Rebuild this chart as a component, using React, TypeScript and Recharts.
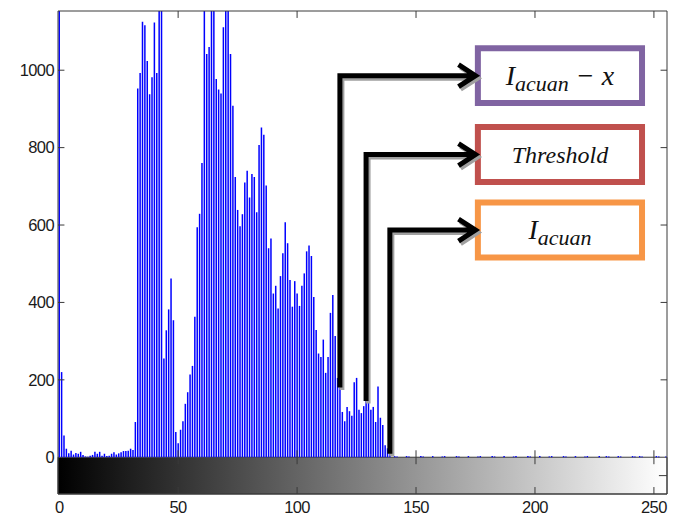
import React from "react";
import { ComposedChart, Bar, XAxis, YAxis, ReferenceArea, ReferenceLine } from "recharts";

// histogram counts, grey levels 0..255
const darkCounts = [
  1250, 220, 56, 22, 10, 17, 7, 11, 9, 14,
  6, 2, 1, 4, 6, 14, 9, 14, 4, 9,
  3, 4, 9, 13, 7, 10, 13, 16, 16, 17,
  22, 19, 91,
];

const midCounts = [
  953, 993, 1125, 1116, 1024, 938, 982, 1123, 993, 1240, // 33-42
  1210, 255, 328, 382, 462, 354, 65, 36, 71, 93, // 43-52
  138, 168, 214, 236, 363, 594, 629, 760, 1230, 1042, // 53-62
  1060, 1220, 1200, 977, 950, 940, 1111, 1250, 1190, 1042, // 63-72
  908, 724, 639, 597, 628, 710, 740, 671, 732, 724, // 73-82
  633, 807, 852, 833, 702, 540, 565, 423, 443, 384, // 83-92
  468, 527, 607, 553, 458, 389, 455, 423, 391, 443, // 93-102
  475, 532, 547, 520, 414, 329, 268, 259, 304, 218, // 103-112
  259, 373, 419, 313, 205, 180, 117, 93, 130, 119, // 113-122
  107, 194, 205, 123, 114, 132, 145, 145, 123, 130, // 123-132
  91, 183, 102, 83, 31, 23, 9, 0, // 133-140
];

const brightCounts = [
  3, 2, 0, 0, 0, 3, 2, 0, 0, 0,
  0, 3, 2, 0, 0, 0, 3, 0, 0, 0,
  2, 3, 0, 0, 0, 0, 3, 2, 0, 0,
  0, 3, 0, 0, 0, 2, 3, 0, 0, 0,
  0, 3, 2, 0, 0, 0, 3, 0, 0, 0,
  2, 3, 0, 0, 0, 0, 3, 2, 0, 0,
  0, 3, 0, 0, 0, 2, 3, 0, 0, 0,
  0, 3, 2, 0, 0, 0, 3, 0, 0, 0,
  2, 3, 0, 0, 0, 0, 3, 0, 0, 3,
  2, 0, 0, 0, 3, 2, 0, 0, 0, 0,
  3, 2, 0, 3, 2, 0, 0, 0, 0, 0,
  3, 2, 0, 0, 2,
];

const xTicks = [0, 50, 100, 150, 200, 250];
const yTicks = [0, 200, 400, 600, 800, 1000];

// annotated grey levels and the level where each arrow turns toward its box
const markerBins = [118, 129, 139];
const markerLevels = [986, 782, 587];
const markerMain = ["I", "Threshold", "I"];
const markerSub = ["acuan", "", "acuan"];
const markerTail = [" \u2212 x", "", ""];
const markerColors = ["#8064a2", "#c0504d", "#f79646"];

const counts = [...darkCounts, ...midCounts, ...brightCounts];
const histData = counts.map((count, bin) => ({ bin, count }));

const X_MIN = -0.5;
const X_MAX = 255.5;
const Y_TOP = 1153;
const BAR_BOTTOM = -95;
const BOX_LEFT = 175;
const BOX_X1 = 176;
const BOX_X2 = 245;
const BOX_HALF = 71;
const AXIS = "#3a3a3a";
const TICK_FONT = "'Liberation Sans', Arial, Helvetica, sans-serif";
const MATH_FONT = "'Liberation Serif', 'Times New Roman', serif";

const Stem = (props: any) => {
  const { x, y, width, height } = props;
  if (!height || height <= 0) return <g />;
  const cx = x + width / 2;
  return <line x1={cx} x2={cx} y1={y} y2={y + height} stroke="#0000ff" strokeWidth={1.5} />;
};

// elbow arrow: up from the bar top, then right to the box
const ElbowArrow = (props: any) => {
  const { x1, y1, x2, y2 } = props;
  const path = `M${x1},${y1} V${y2} H${x2} M${x2 - 17},${y2 - 11} L${x2},${y2} L${x2 - 17},${y2 + 11}`;
  return (
    <g>
      <path d={path} transform="translate(2,2.5)" fill="none" stroke="#a0a0a0" strokeWidth={5} strokeLinejoin="miter" />
      <path d={path} fill="none" stroke="#000" strokeWidth={5} strokeLinejoin="miter" />
    </g>
  );
};

const boxText = (i: number) => (props: any) => {
  const vb = props.viewBox || {};
  const cx = vb.x + vb.width / 2;
  const cy = vb.y + vb.height / 2;
  if (!markerSub[i]) {
    return (
      <text x={cx} y={cy + 8} textAnchor="middle" fontFamily={MATH_FONT} fontStyle="italic" fontSize={24} fill="#111">
        {markerMain[i]}
      </text>
    );
  }
  return (
    <text x={cx} y={cy + 9} textAnchor="middle" fontFamily={MATH_FONT} fontStyle="italic" fontSize={28} fill="#111">
      <tspan>{markerMain[i]}</tspan>
      <tspan fontSize={22} dy={6}>{markerSub[i]}</tspan>
      {markerTail[i] ? <tspan dy={-6}>{markerTail[i]}</tspan> : null}
    </text>
  );
};

export default function App() {
  const innerTicks = xTicks.filter((t) => t > 0);
  const valueTicks = yTicks.filter((v) => v > 0);
  return (
    <div style={{ width: 677, height: 510 }}>
      <ComposedChart width={677} height={510} data={histData} margin={{ top: 3, right: 18, bottom: 0, left: 0 }}>
        <defs>
          <linearGradient id="grayRamp" x1="0" y1="0" x2="1" y2="0">
            <stop offset="0" stopColor="#000000" />
            <stop offset="1" stopColor="#ffffff" />
          </linearGradient>
        </defs>
        <XAxis
          type="number"
          dataKey="bin"
          domain={[X_MIN, X_MAX]}
          allowDataOverflow
          ticks={xTicks}
          interval={0}
          height={24}
          tickSize={0}
          tickMargin={7}
          tickLine={false}
          axisLine={{ stroke: AXIS }}
          tick={{ fontSize: 16.5, fill: "#1a1a1a", fontFamily: TICK_FONT, letterSpacing: -0.6 }}
        />
        <YAxis
          type="number"
          domain={[BAR_BOTTOM, Y_TOP]}
          allowDataOverflow
          ticks={yTicks}
          interval={0}
          width={50}
          tickSize={0}
          tickMargin={4}
          tickLine={false}
          axisLine={{ stroke: AXIS }}
          tick={{ fontSize: 16.5, fill: "#1a1a1a", fontFamily: TICK_FONT, letterSpacing: -0.6 }}
        />

        {/* grey-level colorbar under the histogram */}
        <ReferenceArea x1={X_MIN} x2={X_MAX} y1={BAR_BOTTOM} y2={0} fill="url(#grayRamp)" fillOpacity={1} stroke={AXIS} strokeWidth={1} />

        <Bar dataKey="count" isAnimationActive={false} shape={Stem} />

        <ReferenceLine y={Y_TOP} stroke={AXIS} />
        <ReferenceLine x={X_MAX} stroke={AXIS} />

        {valueTicks.map((v) => (
          <ReferenceLine key={`yl${v}`} segment={[{ x: X_MIN, y: v }, { x: X_MIN + 2.7, y: v }]} stroke={AXIS} />
        ))}
        {valueTicks.map((v) => (
          <ReferenceLine key={`yr${v}`} segment={[{ x: X_MAX, y: v }, { x: X_MAX - 2.7, y: v }]} stroke={AXIS} />
        ))}
        {innerTicks.map((t) => (
          <ReferenceLine key={`xt${t}`} segment={[{ x: t, y: Y_TOP }, { x: t, y: Y_TOP - 18 }]} stroke={AXIS} />
        ))}
        {innerTicks.map((t) => (
          <ReferenceLine key={`xz${t}`} segment={[{ x: t, y: -18 }, { x: t, y: 18 }]} stroke={AXIS} />
        ))}
        {innerTicks.map((t) => (
          <ReferenceLine key={`xb${t}`} segment={[{ x: t, y: BAR_BOTTOM }, { x: t, y: BAR_BOTTOM + 18 }]} stroke={AXIS} />
        ))}
        <ReferenceLine segment={[{ x: X_MAX, y: BAR_BOTTOM / 2 }, { x: X_MAX - 3.4, y: BAR_BOTTOM / 2 }]} stroke={AXIS} />

        {markerBins.map((b, i) => (
          <ReferenceLine
            key={`arrow${b}`}
            segment={[{ x: b, y: counts[b] }, { x: BOX_LEFT, y: markerLevels[i] }]}
            shape={ElbowArrow}
          />
        ))}
        {markerLevels.map((lvl, i) => (
          <ReferenceArea
            key={`box${i}`}
            x1={BOX_X1}
            x2={BOX_X2}
            y1={lvl - BOX_HALF}
            y2={lvl + BOX_HALF}
            fill="#ffffff"
            fillOpacity={1}
            stroke={markerColors[i]}
            strokeWidth={6}
            label={boxText(i)}
          />
        ))}
      </ComposedChart>
    </div>
  );
}
